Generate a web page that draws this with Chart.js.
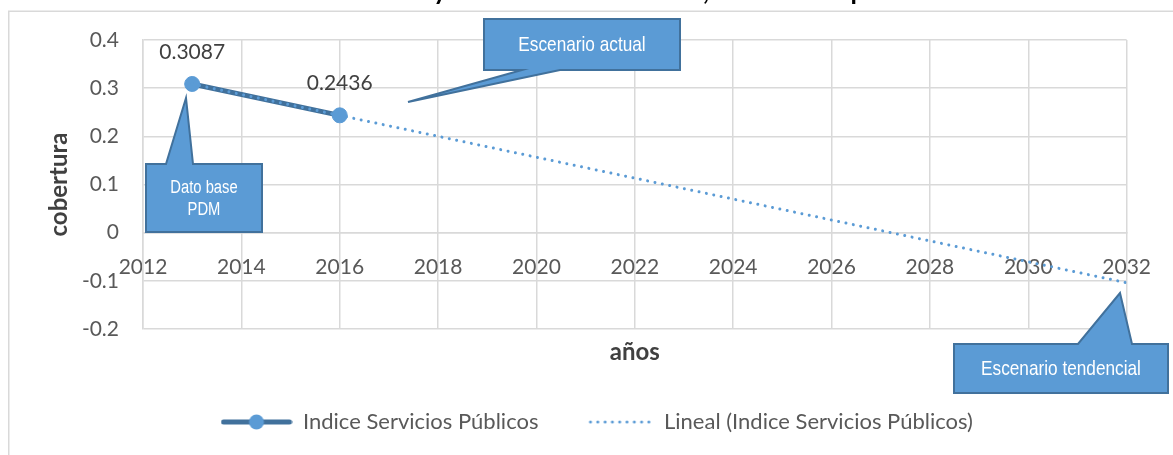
<!DOCTYPE html>
<html>
<head>
<meta charset="utf-8">
<script src="https://cdn.jsdelivr.net/npm/chart.js@4.4.1/dist/chart.umd.min.js"></script>
<style>
html,body{margin:0;padding:0;background:#fff;overflow:hidden}
canvas{display:block}
</style>
</head>
<body>
<canvas id="c" width="1173" height="455"></canvas>
<script>
// ---------------- data ----------------
const years = [2013, 2016];
const indiceValues = [0.3087, 0.2436];
const dataLabels = ['0.3087', '0.2436'];
const trendYears = [2013, 2032];
const trendValues = [0.3087, -0.104];
const xTickValues = [2012, 2014, 2016, 2018, 2020, 2022, 2024, 2026, 2028, 2030, 2032];
const yTickValues = [-0.2, -0.1, 0, 0.1, 0.2, 0.3, 0.4];
const yTickLabels = ['-0.2', '-0.1', '0', '0.1', '0.2', '0.3', '0.4'];
const seriesName = 'Indice Servicios Públicos';
const trendName = 'Lineal (Indice Servicios Públicos)';
const xTitle = 'años';
const yTitle = 'cobertura';
const chartTitle = 'Indice Servicios Públicos y cobertura del servicio, hasta 2032 por tendencia';

// ---------------- styling / layout ----------------
const FONT = 'Lato';
const TICK_SIZE = 21, LEGEND_SIZE = 22, LABEL_SIZE = 21, AXIS_TITLE_SIZE = 24;
const W = 1173, H = 455;
const AREA = {left: 143, top: 40, right: 1129, bottom: 329};
const LEG = {box: 71, x1: 221, x2: 582, cy: 422};
const DARK = '#41719C', LIGHT = '#5B9BD5', GRID = '#d9d9d9';

const callouts = [
  {box: [484, 19, 680, 70], edge: 'bottom', base: [522, 560], tip: [408, 102], lines: ['Escenario actual'], size: 21, gap: 0},
  {box: [146, 164, 262, 232], edge: 'top', base: [166, 193], tip: [186, 98], lines: ['Dato base', 'PDM'], size: 18, gap: 22},
  {box: [954, 344, 1168, 393], edge: 'top', base: [1078, 1132], tip: [1120, 293], lines: ['Escenario tendencial'], size: 21, gap: 0}
];

const mctx = document.createElement('canvas').getContext('2d');
function textW(str, font) { mctx.font = font; return mctx.measureText(str).width; }

const legFont = 'normal ' + LEGEND_SIZE + 'px ' + FONT;
const half = LEGEND_SIZE / 2;
const itemW1 = LEG.box + half + textW(seriesName, legFont);
const itemW2 = LEG.box + half + textW(trendName, legFont);
const legPad = Math.max(LEG.x2 - (LEG.x1 + itemW1), 4);
const lw = itemW1 + itemW2 + 2 * legPad;
const padR = W - AREA.right;
const padL = 2 * LEG.x1 - legPad - AREA.right + lw;
const yAxisW = AREA.left - padL;
const legH = LEGEND_SIZE + legPad + 10;
const padB = H - 10 - half - LEG.cy;
const legTop = H - padB - legH;
const x2H = legTop - AREA.bottom;
const titleLH = AXIS_TITLE_SIZE * 1.2;
const xTitlePadB = legTop - titleLH / 2 - 352;
const yTitlePadT = 59 - padL - titleLH / 2;

// narrow font detection for callouts
function hasFont(name) {
  const a = textW('Escenario tendencial 0123', '20px "' + name + '", monospace');
  const b = textW('Escenario tendencial 0123', '20px monospace');
  return Math.abs(a - b) > 0.5;
}
const NARROW_OK = hasFont('Liberation Sans Narrow');

// legend swatches
function seriesSwatch() {
  const c = document.createElement('canvas'); c.width = 72; c.height = 18;
  const g = c.getContext('2d');
  g.strokeStyle = DARK; g.lineWidth = 5; g.lineCap = 'round';
  g.beginPath(); g.moveTo(3, 9); g.lineTo(69, 9); g.stroke();
  g.fillStyle = LIGHT; g.beginPath(); g.arc(36, 9, 7.5, 0, Math.PI * 2); g.fill();
  return c;
}
function trendSwatch() {
  const c = document.createElement('canvas'); c.width = 72; c.height = 18;
  const g = c.getContext('2d');
  g.fillStyle = LIGHT;
  for (let i = 0; i < 9; i++) { g.beginPath(); g.arc(9 + i * 7.3, 9, 1.5, 0, Math.PI * 2); g.fill(); }
  return c;
}
const sw1 = seriesSwatch(), sw2 = trendSwatch();

// ---------------- plugins ----------------
const decor = {
  id: 'decor',
  beforeDraw(chart) {
    const ctx = chart.ctx;
    ctx.save();
    ctx.strokeStyle = GRID; ctx.lineWidth = 1.5;
    ctx.strokeRect(8.75, 11.25, 3000, 3000);
    // clipped title
    ctx.font = 'bold 26px ' + FONT;
    const pre = chartTitle.slice(0, chartTitle.indexOf(' y ') + 1);
    const x0 = 440 - ctx.measureText(pre).width - ctx.measureText('y').width / 2;
    ctx.fillStyle = '#000'; ctx.textBaseline = 'alphabetic'; ctx.textAlign = 'left';
    ctx.fillText(chartTitle, x0, 0);
    ctx.restore();
  },
  afterDatasetsDraw(chart) {
    const ctx = chart.ctx;
    const meta = chart.getDatasetMeta(0);
    ctx.save();
    ctx.font = LABEL_SIZE + 'px ' + FONT;
    ctx.fillStyle = '#404040'; ctx.textAlign = 'center'; ctx.textBaseline = 'middle';
    meta.data.forEach((pt, i) => ctx.fillText(dataLabels[i], pt.x, pt.y - 32));
    ctx.restore();
  },
  afterDraw(chart) {
    const ctx = chart.ctx;
    callouts.forEach(c => {
      const [x0, y0, x1, y1] = c.box;
      ctx.save();
      ctx.beginPath();
      if (c.edge === 'top') {
        ctx.moveTo(x0, y0); ctx.lineTo(c.base[0], y0); ctx.lineTo(c.tip[0], c.tip[1]);
        ctx.lineTo(c.base[1], y0); ctx.lineTo(x1, y0); ctx.lineTo(x1, y1); ctx.lineTo(x0, y1);
      } else {
        ctx.moveTo(x0, y0); ctx.lineTo(x1, y0); ctx.lineTo(x1, y1); ctx.lineTo(c.base[1], y1);
        ctx.lineTo(c.tip[0], c.tip[1]); ctx.lineTo(c.base[0], y1); ctx.lineTo(x0, y1);
      }
      ctx.closePath();
      ctx.fillStyle = LIGHT; ctx.fill();
      ctx.lineWidth = 2; ctx.strokeStyle = DARK; ctx.lineJoin = 'miter'; ctx.stroke();
      ctx.fillStyle = '#fff'; ctx.textAlign = 'center'; ctx.textBaseline = 'middle';
      const cx = (x0 + x1) / 2, cy = (y0 + y1) / 2 + 1;
      const n = c.lines.length;
      c.lines.forEach((t, i) => {
        const y = cy + (i - (n - 1) / 2) * c.gap;
        ctx.save();
        if (NARROW_OK) {
          ctx.font = c.size + 'px "Liberation Sans Narrow"';
          ctx.fillText(t, cx, y);
        } else {
          ctx.font = c.size + 'px "Liberation Sans"';
          ctx.translate(cx, y); ctx.scale(0.82, 1); ctx.fillText(t, 0, 0);
        }
        ctx.restore();
      });
      ctx.restore();
    });
  }
};

// ---------------- chart ----------------
new Chart(document.getElementById('c'), {
  type: 'line',
  data: {
    datasets: [
      {
        label: seriesName,
        data: years.map((x, i) => ({x, y: indiceValues[i]})),
        xAxisID: 'x', yAxisID: 'y',
        borderColor: DARK, borderWidth: 5, borderCapStyle: 'round',
        pointRadius: 7.5, pointBackgroundColor: LIGHT, pointBorderColor: LIGHT, pointBorderWidth: 1,
        tension: 0, order: 1
      },
      {
        label: trendName,
        data: trendYears.map((x, i) => ({x, y: trendValues[i]})),
        xAxisID: 'x', yAxisID: 'y',
        borderColor: LIGHT, borderWidth: 3, borderCapStyle: 'round', borderDash: [0.01, 7.5],
        pointRadius: 0, tension: 0, order: 0
      }
    ]
  },
  options: {
    responsive: false, animation: false, devicePixelRatio: 1,
    layout: {padding: {left: padL, right: padR, top: AREA.top, bottom: padB}},
    plugins: {
      tooltip: {enabled: false},
      legend: {
        position: 'bottom',
        labels: {
          usePointStyle: true, pointStyleWidth: LEG.box, padding: legPad,
          font: {family: FONT, size: LEGEND_SIZE}, color: '#595959',
          generateLabels: () => [
            {text: seriesName, pointStyle: sw1, fillStyle: 'rgba(0,0,0,0)', strokeStyle: 'rgba(0,0,0,0)', lineWidth: 0, hidden: false, datasetIndex: 0, fontColor: '#595959'},
            {text: trendName, pointStyle: sw2, fillStyle: 'rgba(0,0,0,0)', strokeStyle: 'rgba(0,0,0,0)', lineWidth: 0, hidden: false, datasetIndex: 1, fontColor: '#595959'}
          ]
        }
      }
    },
    scales: {
      x: {
        type: 'linear', position: {y: 0}, min: 2012, max: 2032,
        afterBuildTicks: s => { s.ticks = xTickValues.map(v => ({value: v})); },
        ticks: {padding: 22, autoSkip: false, maxRotation: 0, font: {family: FONT, size: TICK_SIZE}, color: '#595959', callback: v => String(v)},
        grid: {color: GRID, lineWidth: 1.5, drawTicks: false},
        border: {color: GRID, width: 1.5}
      },
      x2: {
        type: 'linear', axis: 'x', position: 'bottom', min: 0, max: 1,
        ticks: {display: false}, grid: {display: false}, border: {display: false},
        title: {display: true, text: xTitle, color: '#404040', font: {family: FONT, size: AXIS_TITLE_SIZE, weight: 'bold'}, padding: {top: 0, bottom: xTitlePadB}},
        afterFit: s => { s.height = x2H; }
      },
      y: {
        type: 'linear', position: 'left', min: -0.2, max: 0.4,
        afterBuildTicks: s => { s.ticks = yTickValues.map(v => ({value: v})); },
        ticks: {padding: 24, font: {family: FONT, size: TICK_SIZE}, color: '#595959', callback: (v, i) => yTickLabels[i]},
        grid: {color: GRID, lineWidth: 1.5, drawTicks: false},
        border: {color: GRID, width: 1.5},
        title: {display: true, text: yTitle, color: '#404040', font: {family: FONT, size: AXIS_TITLE_SIZE, weight: 'bold'}, padding: {top: yTitlePadT, bottom: 0}},
        afterFit: s => { s.width = yAxisW; }
      }
    }
  },
  plugins: [decor]
});
</script>
</body>
</html>
